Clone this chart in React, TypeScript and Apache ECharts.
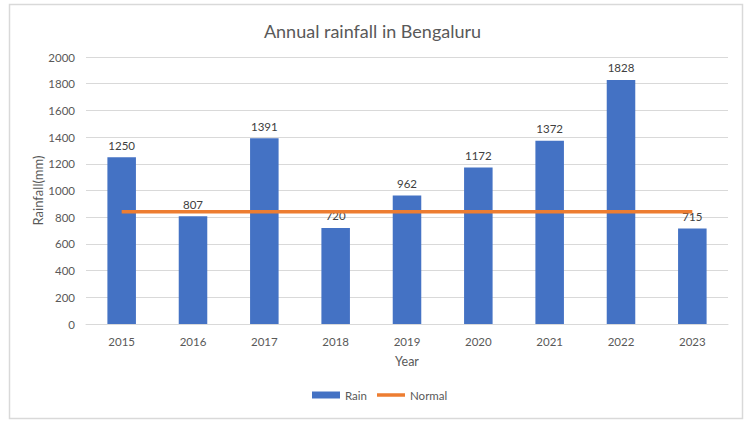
import React, { useEffect, useRef } from "react";
import * as echarts from "echarts";

const years = ["2015", "2016", "2017", "2018", "2019", "2020", "2021", "2022", "2023"];
const rain = [1250, 807, 1391, 720, 962, 1172, 1372, 1828, 715];
const normal = [840, 840, 840, 840, 840, 840, 840, 840, 840];

const FONT = "Lato, 'Liberation Sans', sans-serif";
const TXT = "#595959";

export default function App() {
  const ref = useRef<HTMLDivElement>(null);
  useEffect(() => {
    if (!ref.current) return;
    const chart = echarts.init(ref.current, null, { renderer: "svg" });
    chart.setOption({
      animation: false,
      backgroundColor: "#ffffff",
      textStyle: { fontFamily: FONT },
      title: {
        text: "Annual rainfall in Bengaluru",
        left: "center",
        top: 17,
        textStyle: { fontFamily: FONT, fontSize: 18, fontWeight: "normal", color: TXT },
      },
      graphic: [
        {
          type: "rect",
          shape: { x: 9.5, y: 4.5, width: 733, height: 414 },
          style: { fill: "none", stroke: "#d9d9d9", lineWidth: 1.5 },
          silent: true,
        },
      ],
      legend: {
        bottom: 17,
        left: 307,
        itemWidth: 28,
        itemHeight: 7,
        itemGap: 10,
        textStyle: { fontFamily: FONT, fontSize: 11.5, color: TXT },
        data: [
          { name: "Rain", icon: "rect" },
          {
            name: "Normal",
            icon: "path://M0,0 M0,7 M0,1.75 L28,1.75 L28,5.25 L0,5.25 Z",
          },
        ],
      },
      grid: { left: 86, right: 17, top: 57, bottom: 99, containLabel: false },
      xAxis: {
        type: "category",
        data: years,
        name: "Year",
        nameLocation: "middle",
        nameGap: 31,
        nameMoveOverlap: false,
        nameTextStyle: { fontFamily: FONT, fontSize: 12.5, color: TXT },
        axisLine: { lineStyle: { color: "#d9d9d9" } },
        axisTick: { show: false },
        axisLabel: { color: TXT, fontSize: 11.5, margin: 11, fontFamily: FONT },
      },
      yAxis: {
        type: "value",
        min: 0,
        max: 2000,
        interval: 200,
        name: "Rainfall(mm)",
        nameLocation: "middle",
        nameGap: 42,
        nameMoveOverlap: false,
        nameTextStyle: { fontFamily: FONT, fontSize: 13, color: TXT },
        axisLine: { show: false },
        axisTick: { show: false },
        axisLabel: {
          color: TXT,
          fontSize: 11.5,
          margin: 11,
          fontFamily: FONT,
          formatter: (v: number) => String(v),
        },
        splitLine: { lineStyle: { color: "#d9d9d9", width: 1 } },
      },
      series: [
        {
          name: "Rain",
          type: "bar",
          data: rain,
          barWidth: "40%",
          itemStyle: { color: "#4472C4" },
          label: {
            show: true,
            position: "top",
            distance: 6,
            color: "#404040",
            fontSize: 11.5,
            fontFamily: FONT,
          },
        },
        {
          name: "Normal",
          type: "line",
          data: normal,
          symbol: "none",
          lineStyle: { color: "#ED7D31", width: 3.5 },
          itemStyle: { color: "#ED7D31" },
          z: 3,
        },
      ],
    });
    return () => chart.dispose();
  }, []);
  return (
    <div
      ref={ref}
      style={{ position: "absolute", left: 0, top: 0, width: 745, height: 423 }}
    />
  );
}
